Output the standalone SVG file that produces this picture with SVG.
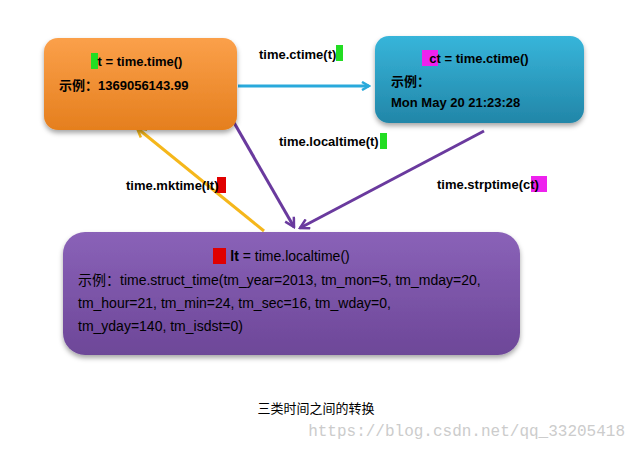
<svg xmlns="http://www.w3.org/2000/svg" width="634" height="450" viewBox="0 0 634 450">
<style>
.b{font-family:"Liberation Sans","Noto Sans CJK SC",sans-serif;font-size:13px;font-weight:bold;fill:#000}
.n{font-family:"Liberation Sans","Noto Sans CJK SC",sans-serif;font-size:14px;fill:#000}
.c{stroke-width:3;fill:none}
</style>
<defs>
<linearGradient id="go" x1="0" y1="0" x2="0" y2="1"><stop offset="0" stop-color="#fba04a"/><stop offset="1" stop-color="#e57f1e"/></linearGradient>
<linearGradient id="gb" x1="0" y1="0" x2="0" y2="1"><stop offset="0" stop-color="#37b5da"/><stop offset="1" stop-color="#2286a8"/></linearGradient>
<linearGradient id="gp" x1="0" y1="0" x2="0" y2="1"><stop offset="0" stop-color="#8a62b8"/><stop offset="1" stop-color="#6d4798"/></linearGradient>
<filter id="sh" x="-10%" y="-10%" width="120%" height="130%"><feDropShadow dx="0" dy="3" stdDeviation="2.5" flood-opacity="0.35"/></filter>
<marker id="ab" markerWidth="10" markerHeight="10" refX="8" refY="5" orient="auto" markerUnits="userSpaceOnUse"><path d="M1,1 L8,5 L1,9" fill="none" stroke="#29a9db" stroke-width="2.5"/></marker>
<marker id="ap" markerWidth="12" markerHeight="12" refX="10" refY="6" orient="auto" markerUnits="userSpaceOnUse"><path d="M1,1 L10,6 L1,11" fill="none" stroke="#6a3a9e" stroke-width="2.5"/></marker>
<marker id="ay" markerWidth="12" markerHeight="12" refX="10" refY="6" orient="auto" markerUnits="userSpaceOnUse"><path d="M1,1 L10,6 L1,11" fill="none" stroke="#f5b71b" stroke-width="2.5"/></marker>
</defs>
<g id="connectors">
<line class="c" x1="238" y1="86" x2="369" y2="86" stroke="#29a9db" marker-end="url(#ab)"/>
<line class="c" x1="217" y1="93" x2="294" y2="227" stroke="#6a3a9e" marker-end="url(#ap)"/>
<line class="c" x1="484" y1="131" x2="300" y2="228" stroke="#6a3a9e" marker-end="url(#ap)"/>
<line class="c" x1="264" y1="231" x2="137" y2="128" stroke="#f5b71b" marker-end="url(#ay)"/>
<rect x="336" y="45" width="7" height="16" fill="#22dd22"/>
<text class="b" x="259" y="59">time.ctime(t)</text>
<rect x="380" y="133" width="7" height="16" fill="#22dd22"/>
<text class="b" x="279" y="146">time.localtime(t)</text>
<rect x="217" y="177" width="9" height="16" fill="#e00000"/>
<text class="b" x="126" y="190">time.mktime(lt)</text>
<rect x="531" y="176" width="16" height="16" fill="#ee22ee"/>
<text class="b" x="437" y="189">time.strptime(ct)</text>
</g>
<g id="node-t">
<rect x="44" y="38" width="193" height="92" rx="14" fill="url(#go)" filter="url(#sh)"/>
<rect x="91" y="53" width="7" height="16" fill="#22dd22"/>
<text class="b" x="140" y="66" text-anchor="middle">t = time.time()</text>
<text class="b" x="59" y="90">示例：1369056143.99</text>
</g>
<g id="node-ct">
<rect x="375" y="36" width="209" height="87" rx="14" fill="url(#gb)" filter="url(#sh)"/>
<rect x="422" y="50" width="16" height="16" fill="#ee22ee"/>
<text class="b" x="479" y="63" text-anchor="middle">ct = time.ctime()</text>
<text class="b" x="391" y="86">示例：</text>
<text class="b" x="391" y="107">Mon May 20 21:23:28</text>
</g>
<g id="node-lt">
<rect x="63" y="232" width="457" height="123" rx="22" fill="url(#gp)" filter="url(#sh)"/>
<rect x="213" y="248" width="13" height="16" fill="#e00000"/>
<text class="n" x="290" y="261" text-anchor="middle"><tspan font-weight="bold">lt</tspan> = time.localtime()</text>
<text class="n" x="78" y="285">示例：time.struct_time(tm_year=2013, tm_mon=5, tm_mday=20,</text>
<text class="n" x="78" y="308">tm_hour=21, tm_min=24, tm_sec=16, tm_wday=0,</text>
<text class="n" x="78" y="331">tm_yday=140, tm_isdst=0)</text>
</g>
<text x="316" y="413" text-anchor="middle" font-family="Noto Sans CJK SC,sans-serif" font-size="13">三类时间之间的转换</text>
<text x="625" y="436" text-anchor="end" font-family="Liberation Mono,monospace" font-size="16" fill="#cccccc">https://blog.csdn.net/qq_33205418</text>
</svg>
